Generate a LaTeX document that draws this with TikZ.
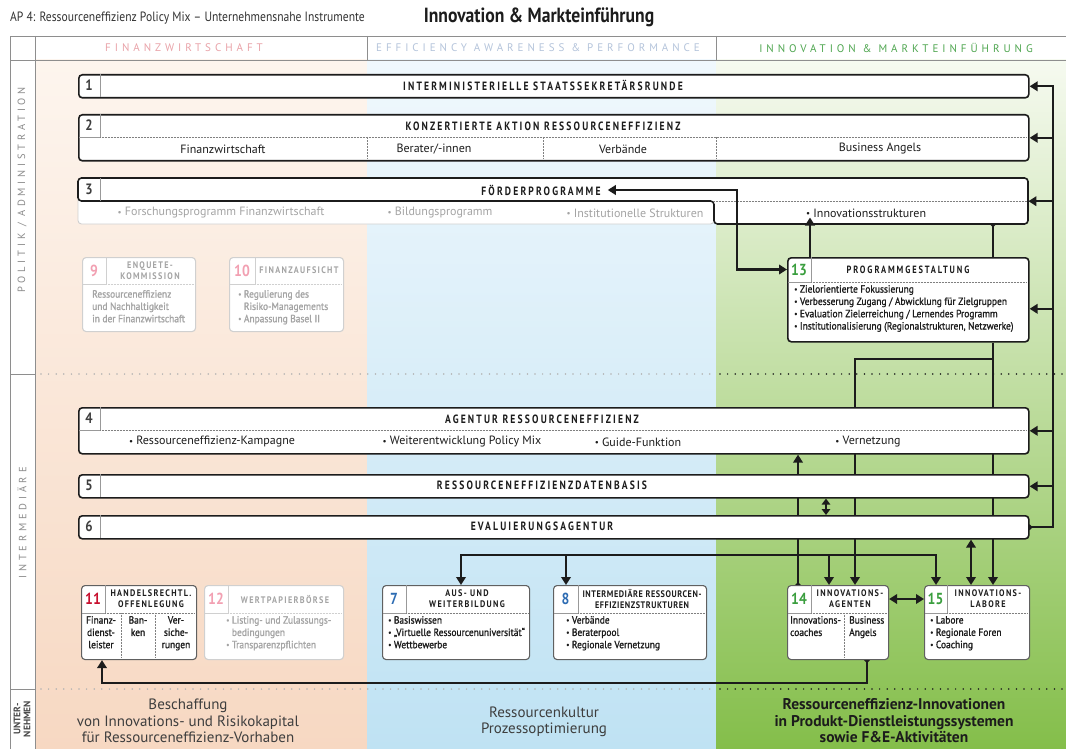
\documentclass[tikz,border=0pt]{standalone}
\usepackage{fontspec}
\setmainfont{PT Sans}
\newfontfamily\cond[FakeStretch=0.86]{PT Sans}
\newfontfamily\condsemi[FakeStretch=0.9,FakeBold=1.2]{PT Sans}
\newfontfamily\spaced[LetterSpace=36]{PT Sans}
\newfontfamily\tracked[FakeStretch=0.8,LetterSpace=18]{PT Sans}
\newfontfamily\trackedsm[FakeStretch=0.86,LetterSpace=14]{PT Sans}
\newfontfamily\trackedxs[FakeStretch=0.86,LetterSpace=6]{PT Sans}
\usetikzlibrary{arrows.meta}
\usetikzlibrary{positioning,calc}
\pgfdeclarelayer{bg}
\pgfdeclarelayer{wires}
\pgfsetlayers{bg,wires,main}

\definecolor{ink}{HTML}{1C1C1C}
\definecolor{rule}{HTML}{8E8E8E}
\definecolor{peachtop}{HTML}{FDF5EE}
\definecolor{peachmid}{HTML}{FAE8DA}
\definecolor{peachbot}{HTML}{F7D8C2}
\definecolor{bluetop}{HTML}{F0F8FD}
\definecolor{bluemid}{HTML}{DAEEF8}
\definecolor{bluebot}{HTML}{BFE2F3}
\definecolor{greentop}{HTML}{F6FAF0}
\definecolor{greenmid}{HTML}{C6E0A2}
\definecolor{greenbot}{HTML}{84BE4A}
\definecolor{finhd}{HTML}{E9A2A8}
\definecolor{effhd}{HTML}{B4C4DB}
\definecolor{innohd}{HTML}{4FA650}
\definecolor{fade}{HTML}{A4A4A4}
\definecolor{fadeline}{HTML}{D0D0D0}
\definecolor{rosa}{HTML}{F2A0B2}
\definecolor{rot}{HTML}{C8102E}
\definecolor{blau}{HTML}{2D6CB3}
\definecolor{gruen}{HTML}{3A9E3E}

\newcommand\bul{\raisebox{0.15ex}{\scalebox{0.75}{•}}\ }

\tikzset{
    wide/.style={
        draw=ink, line width=1.6pt, rounded corners=3.5pt, fill=white,
        inner sep=0pt, anchor=north west, minimum width=950pt
    },
    card/.style={
        draw=ink!70, line width=1.1pt, rounded corners=3.5pt, fill=white,
        inner sep=0pt, anchor=north west, minimum height=74pt
    },
    pale/.style={card, draw=fadeline},
    numcell/.style={draw=black!40, line width=0.5pt},
    dotsep/.style={draw=black!50, line width=0.5pt, dash pattern=on 0.5pt off 1pt},
    wire/.style={draw=ink, line width=2.3pt},
    rowdots/.style={line width=1.7pt, line cap=round, dash pattern=on 0pt off 7.6pt},
    num/.style={font=\cond\bfseries\fontsize{15}{15}\selectfont, text=ink!85, inner sep=0pt},
    cardnum/.style={font=\cond\bfseries\fontsize{16}{16}\selectfont, inner sep=0pt},
    bartitle/.style={font=\tracked\bfseries\fontsize{12}{13}\selectfont, text=ink, inner sep=0pt},
    cardtitle/.style={font=\trackedsm\bfseries\fontsize{9.5}{11}\selectfont, text=ink, align=center, inner sep=0pt},
    entry/.style={font=\fontsize{12}{13}\selectfont, text=ink, inner sep=0pt},
    cardlist/.style={font=\condsemi\fontsize{10.5}{12.3}\selectfont, text=ink, align=left, anchor=north west, inner sep=0pt},
    colhead/.style={font=\spaced\fontsize{11}{12}\selectfont, inner sep=0pt},
    rowhead/.style={font=\spaced\fontsize{10.5}{12}\selectfont, text=black!45, rotate=90, inner sep=0pt},
    bottomtext/.style={font=\fontsize{15}{16.5}\selectfont, align=center, text=ink!85, inner sep=0pt}
}

\begin{document}
\begin{tikzpicture}[x=1pt, y=-1pt, >={Triangle[length=8pt,width=9.5pt]}]
    \useasboundingbox (0,0) rectangle (1066,749);
    \begin{pgfonlayer}{bg}
        \fill[white] (0,0) rectangle (1066,749);
        \shade[top color=peachtop, middle color=peachmid, bottom color=peachbot] (35,60) rectangle (367,749);
        \shade[top color=bluetop, middle color=bluemid, bottom color=bluebot] (367,60) rectangle (716,749);
        \shade[top color=greentop, middle color=greenmid, bottom color=greenbot] (716,60) rectangle (1066,749);
        \draw[draw=rule, line width=0.8pt] (10,749) -- (10,36) -- (1066,36);
        \draw[draw=rule, line width=0.8pt] (10,60) -- (1066,60);
        \draw[draw=rule, line width=0.8pt] (35,36) -- (35,749);
        \draw[draw=rule, line width=0.8pt] (367,36) -- (367,60);
        \draw[draw=rule, line width=0.8pt] (716,36) -- (716,60);
        \draw[draw=rule, line width=0.8pt] (10,374) -- (35,374);
        \draw[draw=rule, line width=0.8pt] (10,689) -- (35,689);
        \foreach \y in {374,689} {
            \draw[rowdots, draw=black!30] (41,\y) -- (712,\y);
            \draw[rowdots, draw=ink] (720,\y) -- (1066,\y);
        }
    \end{pgfonlayer}

    \node[anchor=west, font=\cond\fontsize{13.5}{14}\selectfont, text=ink!90, inner sep=0pt] (ap) at (10,18) {AP 4: Ressourceneffizienz Policy Mix – Unternehmensnahe Instrumente};
    \node[font=\cond\bfseries\fontsize{20.5}{21}\selectfont, text=ink, inner sep=0pt] (topic) at (539,17) {Innovation \& Markteinführung};

    \node[colhead, text=finhd] (hfin) at (184,48) {FINANZWIRTSCHAFT};
    \node[colhead, text=effhd] (heff) at (538,48) {EFFICIENCY AWARENESS \& PERFORMANCE};
    \node[colhead, text=innohd] (hinno) at (896,48) {INNOVATION \& MARKTEINFÜHRUNG};

    \node[rowhead] (rpol) at (22,190) {POLITIK / ADMINISTRATION};
    \node[rowhead] (rint) at (22,523) {INTERMEDIÄRE};
    \node[font=\bfseries\fontsize{9.5}{10}\selectfont, align=center, text=ink!80, rotate=90, inner sep=0pt] (runt) at (22,719) {UNTER-\\NEHMEN};

    % politik / administration
    \node[wide, minimum height=23pt] (b1) at (78,74) {};
    \draw[numcell] (100,74) -- (100,97);
    \node[num] (n1) at (89,85.5) {1};
    \node[bartitle] (t1) at (543,85.5) {INTERMINISTERIELLE STAATSSEKRETÄRSRUNDE};

    \node[wide, minimum height=46pt] (b2) at (78,114) {};
    \draw[numcell] (100,114) -- (100,137) -- (79,137);
    \draw[dotsep] (100,137) -- (1027,137);
    \foreach \x in {367,543,716} \draw[dotsep] (\x,137) -- (\x,159);
    \node[num] (n2) at (89,125.5) {2};
    \node[bartitle] (t2) at (543,126) {KONZERTIERTE AKTION RESSOURCENEFFIZIENZ};
    \node[entry] at (223,149) {Finanzwirtschaft};
    \node[entry] at (434,149) {Berater/-innen};
    \node[entry] at (623,149) {Verbände};
    \node[entry] at (880,149) {Business Angels};

    \node[inner sep=0pt, anchor=north west, minimum width=950pt, minimum height=46pt] (b3) at (78,178) {};
    \draw[draw=fadeline, line width=0.9pt, rounded corners=3.5pt, fill=white] (78,195) rectangle (714,224);
    \draw[draw=ink, line width=1.6pt, rounded corners=3.5pt, fill=white] (78,201) -- (78,178) -- (1028,178) -- (1028,224) -- (714,224) -- (714,201) -- cycle;
    \draw[numcell] (100,178) -- (100,201);
    \draw[dotsep] (714,201) -- (1027,201);
    \node[num] (n3) at (89,189.5) {3};
    \node[bartitle] (t3) at (541,190) {FÖRDERPROGRAMME};
    \node[entry, text=fade] at (221,213) {\bul Forschungsprogramm Finanzwirtschaft};
    \node[entry, text=fade] at (440,213) {\bul Bildungsprogramm};
    \node[entry, text=fade] at (635,213) {\bul Institutionelle Strukturen};
    \node[entry, anchor=west] (inno) at (806,213) {\bul Innovationsstrukturen};

    \node[pale, minimum width=113pt] (b9) at (82,257) {};
    \draw[numcell, draw=fadeline] (106,257) -- (106,284) -- (83,284);
    \draw[dotsep, draw=fadeline] (106,284) -- (194,284);
    \node[cardnum, text=rosa] (n9) at (94,270.5) {9};
    \node[cardtitle, text=fade] at (150,270.5) {ENQUETE-\\KOMMISSION};
    \node[cardlist, text=fade] at (92,290) {Ressourceneffizienz\\und Nachhaltigkeit\\in der Finanzwirtschaft};

    \node[pale, minimum width=114pt] (b10) at (229,257) {};
    \draw[numcell, draw=fadeline] (255,257) -- (255,284) -- (230,284);
    \draw[dotsep, draw=fadeline] (255,284) -- (342,284);
    \node[cardnum, text=rosa] (n10) at (242,270.5) {10};
    \node[cardtitle, text=fade] at (299,270.5) {FINANZAUFSICHT};
    \node[cardlist, text=fade] at (238,290) {\bul Regulierung des\\\phantom{\bul}Risiko-Managements\\\bul Anpassung Basel II};

    \node[wide, minimum width=241pt, minimum height=84pt] (b13) at (787,257) {};
    \draw[numcell] (811,257) -- (811,282) -- (788,282);
    \draw[dotsep] (811,282) -- (1027,282);
    \node[cardnum, text=gruen] (n13) at (799,269.5) {13};
    \node[cardtitle, font=\tracked\bfseries\fontsize{10.5}{11}\selectfont] at (908,270) {PROGRAMMGESTALTUNG};
    \node[cardlist] at (794,285) {\bul Zielorientierte Fokussierung\\\bul Verbesserung Zugang / Abwicklung für Zielgruppen\\\bul Evaluation Zielerreichung / Lernendes Programm\\\bul Institutionalisierung (Regionalstrukturen, Netzwerke)};

    % intermediaere
    \node[wide, minimum height=46pt] (b4) at (78,407) {};
    \draw[numcell] (100,407) -- (100,430) -- (79,430);
    \draw[dotsep] (100,430) -- (1027,430);
    \node[num] (n4) at (89,418.5) {4};
    \node[bartitle] (t4) at (542,419) {AGENTUR RESSOURCENEFFIZIENZ};
    \node[entry] at (212,442) {\bul Ressourceneffizienz-Kampagne};
    \node[entry] at (462,442) {\bul Weiterentwicklung Policy Mix};
    \node[entry] at (638,442) {\bul Guide-Funktion};
    \node[entry] at (868,442) {\bul Vernetzung};

    \node[wide, minimum height=23pt] (b5) at (78,474) {};
    \draw[numcell] (100,474) -- (100,497);
    \node[num] (n5) at (89,485.5) {5};
    \node[bartitle] (t5) at (542,485.5) {RESSOURCENEFFIZIENZDATENBASIS};

    \node[wide, minimum height=23pt] (b6) at (78,515) {};
    \draw[numcell] (100,515) -- (100,538);
    \node[num] (n6) at (89,526.5) {6};
    \node[bartitle] (t6) at (542,526.5) {EVALUIERUNGSAGENTUR};

    \node[card, minimum width=115pt] (b11) at (81,585) {};
    \draw[numcell] (105,585) -- (105,613) -- (82,613);
    \draw[dotsep] (105,613) -- (195,613);
    \foreach \x in {121,155} \draw[dotsep] (\x,613) -- (\x,658);
    \node[cardnum, text=rot] (n11) at (93,599) {11};
    \node[cardtitle] at (151,599) {HANDELSRECHTL.\\OFFENLEGUNG};
    \node[cardlist, anchor=north, align=center] at (101,616) {Finanz-\\dienst-\\leister};
    \node[cardlist, anchor=north, align=center] at (138,616) {Ban-\\ken};
    \node[cardlist, anchor=north, align=center] at (176,616) {Ver-\\siche-\\rungen};

    \node[pale, minimum width=139pt] (b12) at (204,585) {};
    \draw[numcell, draw=fadeline] (228,585) -- (228,613) -- (205,613);
    \draw[dotsep, draw=fadeline] (228,613) -- (342,613);
    \node[cardnum, text=rosa] (n12) at (216,599) {12};
    \node[cardtitle, text=fade] at (285,599) {WERTPAPIERBÖRSE};
    \node[cardlist, text=fade] at (226,616) {\bul Listing- und Zulassungs-\\\phantom{\bul}bedingungen\\\bul Transparenzpflichten};

    \node[card, minimum width=147pt] (b7) at (382,585) {};
    \draw[numcell] (406,585) -- (406,613) -- (383,613);
    \draw[dotsep] (406,613) -- (528,613);
    \node[cardnum, text=blau] (n7) at (394,599) {7};
    \node[cardtitle] at (467,599) {AUS- UND\\WEITERBILDUNG};
    \node[cardlist] at (388,616) {\bul Basiswissen\\\bul „Virtuelle Ressourcenuniversität“\\\bul Wettbewerbe};

    \node[card, minimum width=153pt] (b8) at (553,585) {};
    \draw[numcell] (578,585) -- (578,613) -- (554,613);
    \draw[dotsep] (578,613) -- (705,613);
    \node[cardnum, text=blau] (n8) at (565.5,599) {8};
    \node[cardtitle, font=\trackedxs\bfseries\fontsize{9.5}{11}\selectfont] at (642,599) {INTERMEDIÄRE RESSOURCEN-\\EFFIZIENZSTRUKTUREN};
    \node[cardlist] at (566,616) {\bul Verbände\\\bul Beraterpool\\\bul Regionale Vernetzung};

    \node[card, minimum width=101pt] (b14) at (787,585) {};
    \draw[numcell] (811,585) -- (811,613) -- (788,613);
    \draw[dotsep] (811,613) -- (887,613);
    \draw[dotsep] (844,613) -- (844,658);
    \node[cardnum, text=gruen] (n14) at (799,599) {14};
    \node[cardtitle] at (850,599) {INNOVATIONS-\\AGENTEN};
    \node[cardlist] at (790,616) {Innovations-\\coaches};
    \node[cardlist] at (849,616) {Business\\Angels};

    \node[card, minimum width=105pt] (b15) at (924,585) {};
    \draw[numcell] (947,585) -- (947,613) -- (925,613);
    \draw[dotsep] (947,613) -- (1028,613);
    \node[cardnum, text=gruen] (n15) at (935.5,599) {15};
    \node[cardtitle] at (988,599) {INNOVATIONS-\\LABORE};
    \node[cardlist] at (930,616) {\bul Labore\\\bul Regionale Foren\\\bul Coaching};

    % unternehmen
    \node[bottomtext] (u1) at (188,721) {Beschaffung\\von Innovations- und Risikokapital\\für Ressourceneffizienz-Vorhaben};
    \node[bottomtext] (u2) at (544,722) {Ressourcenkultur\\Prozessoptimierung};
    \node[bottomtext, font=\bfseries\fontsize{15.5}{16.5}\selectfont, text=ink] (u3) at (894,721) {Ressourceneffizienz-Innovationen\\in Produkt-Dienstleistungssystemen\\sowie F\&E-Aktivitäten};

    \coordinate (rail) at (1053,0);
    \coordinate (c993) at (993,0);
    \coordinate (c855) at (855,0);
    \coordinate (c826) at (826,0);
    \coordinate (c810) at (810,0);
    \coordinate (c798) at (798,0);
    \coordinate (c971) at (971,0);
    \coordinate (c737) at (737,0);
    \coordinate (split) at (993,359);
    \coordinate (bus) at (798,555);
    \coordinate (ba) at (867,683);
    \coordinate (in13) at ($(b13.east)+(0,9)$);

    \begin{pgfonlayer}{wires}
        \draw[wire, {Circle[length=5pt]}->] ($(b6.east)+(-2.5,0)$) -- (b6.east -| rail) -- (b1.east -| rail) -- (b1.east);
        \foreach \b in {b2,b3,b4,b5} \draw[wire, ->] (\b.east -| rail) -- (\b.east);
        \draw[wire, ->] (in13 -| rail) -- (in13);
        \draw[wire, {Circle[length=5pt]}-] ($(b3.south -| c993)+(0,-2.5)$) -- (b13.north -| c993);
        \draw[wire, ->] (b13.south -| c993) -- (b15.north -| c993);
        \draw[wire, ->] (split) -| (b14.north -| c855);
        \draw[wire, {Circle[length=5pt]}->] ($(b14.north -| c798)+(0,2.5)$) -- (b4.south -| c798);
        \draw[wire, ->] (bus) -| ($(b7.north west)+(79,0)$);
        \draw[wire, ->] (bus) -| ($(b8.north west)+(13,0)$);
        \draw[wire, ->] (bus) -| ($(b14.north west)+(42,0)$);
        \draw[wire, ->] (bus) -| ($(b15.north west)+(12,0)$);
        \draw[wire, {Triangle[length=6pt,width=8.5pt]}-{Triangle[length=6pt,width=8.5pt]}] (b5.south -| c826) -- (b6.north -| c826);
        \draw[wire, <->] (b6.south -| c971) -- (b15.north -| c971);
        \draw[wire, <->] (b14.east |- n14) -- (b15.west |- n14);
        \draw[wire, {Circle[length=5pt]}->] ($(b14.south -| ba)+(0,-2.5)$) -- (ba) -| ($(b11.south west)+(21,0)$);
    \end{pgfonlayer}

    \draw[wire, <->] ($(t3.east)+(7,0)$) -| (c737 |- n13) -- (b13.west |- n13);
    \draw[wire, ->] (b13.north -| c810) -- (c810 |- inno.south);
\end{tikzpicture}
\end{document}
